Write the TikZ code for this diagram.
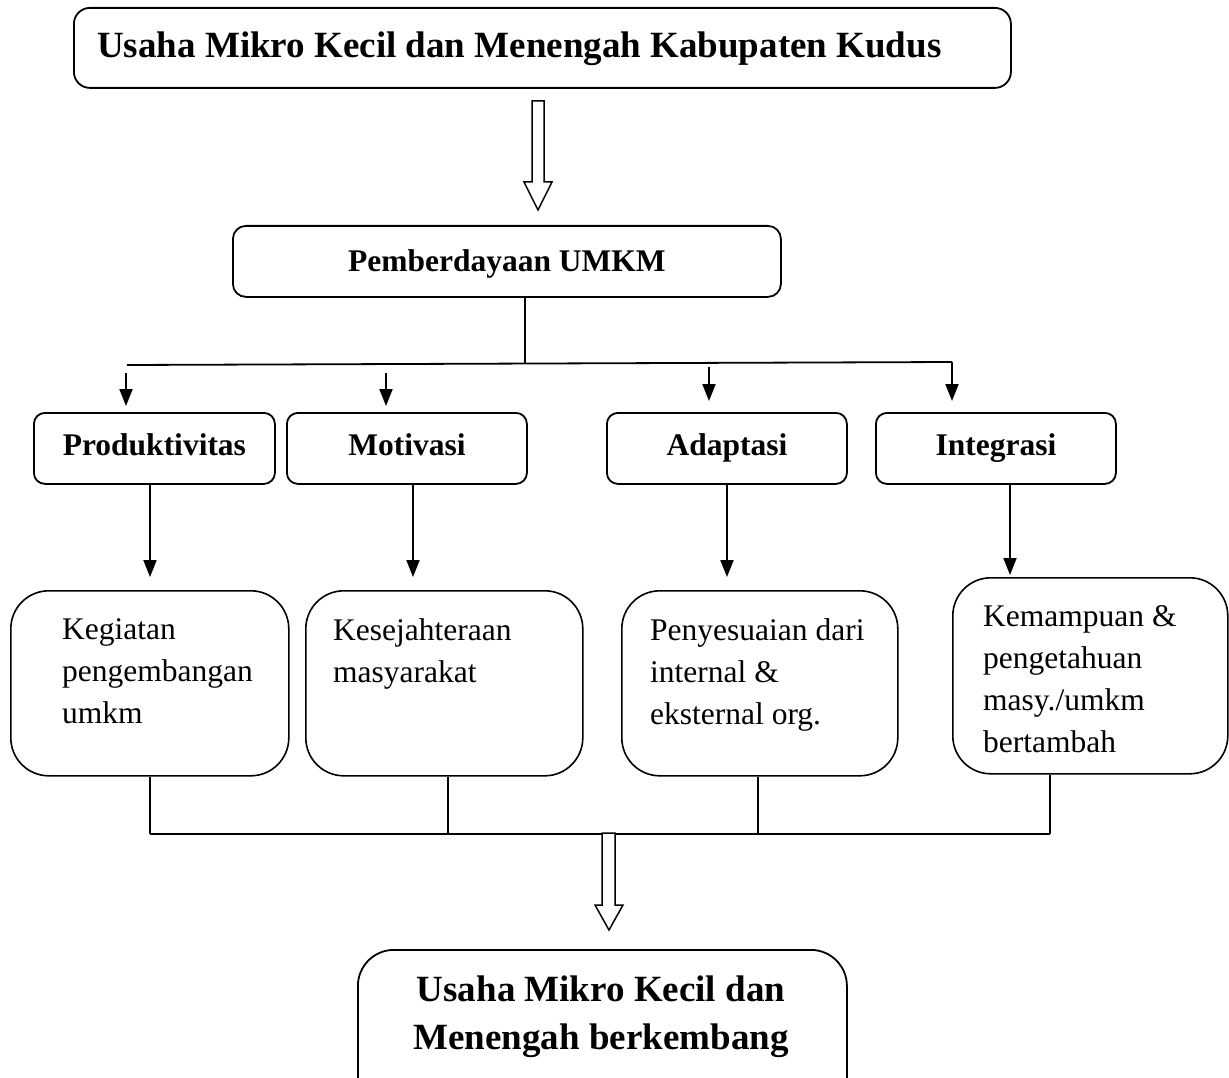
\documentclass[tikz,border=0pt]{standalone}
\usepackage{fontspec}
\setmainfont{Liberation Serif}
\usetikzlibrary{arrows.meta,calc}
\newcommand\myBigFont{\fontsize{37}{48}\selectfont\bfseries}
\newcommand\myMidFont{\fontsize{31.5}{40}\selectfont\bfseries}
\newcommand\myBodyFont{\fontsize{31.5}{42}\selectfont}
\begin{document}
\begin{tikzpicture}[x=1pt,y=-1pt,
  rbox/.style={draw,line width=1.8pt,rounded corners=#1,inner sep=0pt,anchor=north west},
  rbox/.default=10pt,
  midbox/.style={rbox=11pt,minimum width=240pt,minimum height=71pt,font=\myMidFont,text height=22pt,text depth=7pt},
  bigbox/.style={draw,line width=1.6pt,rounded corners=38pt,inner sep=0pt,anchor=north west,minimum height=196pt},
  bodytext/.style={anchor=north west,align=left,inner sep=0pt,font=\myBodyFont},
  arr/.style={line width=2pt,-{Triangle[width=13pt,length=17pt]}},
  conn/.style={line width=1.8pt},
  hollow/.style={draw,line width=1.5pt,fill=white,line join=miter}
]
\useasboundingbox (0,0) rectangle (1229,1078);
\clip (0,0) rectangle (1229,1078);

% title
\node[rbox=16pt,minimum width=937pt,minimum height=80pt] (title) at (73,7) {};
\node[anchor=base west,inner sep=0pt,font=\myBigFont] (titletext) at (97,58) {Usaha Mikro Kecil dan Menengah Kabupaten Kudus};

% hollow arrow 1
\draw[hollow] (532,101) -- (544,101) -- (544,182) -- (552,182) -- (538,210) -- (524,182) -- (532,182) -- cycle;

% Pemberdayaan
\node[rbox=13pt,minimum width=548pt,minimum height=71pt,font=\myMidFont,text height=22pt,text depth=2pt] (pem) at (232,225) {Pemberdayaan UMKM};

% level 2
\node[midbox,minimum width=241pt] (prod) at (33,412) {Produktivitas};
\node[midbox] (mot) at (286,412) {Motivasi};
\node[midbox] (adp) at (606,412) {Adaptasi};
\node[midbox] (intg) at (875,412) {Integrasi};

% distribution line
\coordinate (hl) at (127,365);
\coordinate (hm) at (525,363.5);
\coordinate (hr) at (952,362);
\draw[conn] (pem.south -| hm) -- (hm);
\draw[conn] (hl) -- (hr);
\draw[arr] (hr) -- ([yshift=11pt]intg.north -| hr);
\coordinate (s1) at (126,373);
\coordinate (s2) at (386,373);
\coordinate (s3) at (709,367);
\draw[arr] (s1) -- ([yshift=6pt]prod.north -| s1);
\draw[arr] (s2) -- ([yshift=6pt]mot.north -| s2);
\draw[arr] (s3) -- ([yshift=11pt]adp.north -| s3);

% level 3
\node[bigbox,minimum width=278pt,minimum height=185pt] (k1) at (10,590) {};
\node[bigbox,minimum width=277pt,minimum height=185pt] (k2) at (305,590) {};
\node[bigbox,minimum width=276pt,minimum height=185pt] (k3) at (621,590) {};
\node[bigbox,minimum width=275pt,minimum height=196pt] (k4) at (952,577) {};

\node[bodytext] (t1) at (62,618.5) {Kegiatan\\pengembangan\\umkm};
\node[bodytext] (t2) at (333,618.5) {Kesejahteraan\\masyarakat};
\node[bodytext] (t3) at (650,618.5) {Penyesuaian dari\\internal \&\\eksternal org.};
\node[bodytext] (t4) at (983,605.5) {Kemampuan \&\\pengetahuan\\masy./umkm\\bertambah};

% arrows level 2 -> level 3
\coordinate (d1) at (150,0);
\coordinate (d2) at (413,0);
\coordinate (d3) at (727,0);
\coordinate (d4) at (1010,0);
\draw[arr] (prod.south -| d1) -- ([yshift=13pt]k1.north -| d1);
\draw[arr] (mot.south -| d2) -- ([yshift=13pt]k2.north -| d2);
\draw[arr] (adp.south -| d3) -- ([yshift=13pt]k3.north -| d3);
\draw[arr] (intg.south -| d4) -- ([yshift=2pt]k4.north -| d4);

% collecting lines
\coordinate (b1) at (150,834);
\coordinate (b2) at (448,834);
\coordinate (b3) at (758,834);
\coordinate (b4) at (1050,834);
\draw[conn] (k1.south -| b1) -- (b1);
\draw[conn] (k2.south -| b2) -- (b2);
\draw[conn] (k3.south -| b3) -- (b3);
\draw[conn] (k4.south -| b4) -- (b4);
\draw[conn] (b1) -- (b4);

% hollow arrow 2
\draw[hollow] (602,833) -- (615,833) -- (615,905) -- (623,905) -- (609,930) -- (595,905) -- (602,905) -- cycle;

% final box
\node[draw,line width=1.8pt,rounded corners=36pt,inner sep=0pt,anchor=north west,minimum width=489pt,minimum height=170pt] (final) at (357,949) {};
\node[anchor=north,align=center,inner sep=0pt,font=\myBigFont] (finaltext) at (601,976) {Usaha Mikro Kecil dan\\Menengah berkembang};
\end{tikzpicture}
\end{document}
